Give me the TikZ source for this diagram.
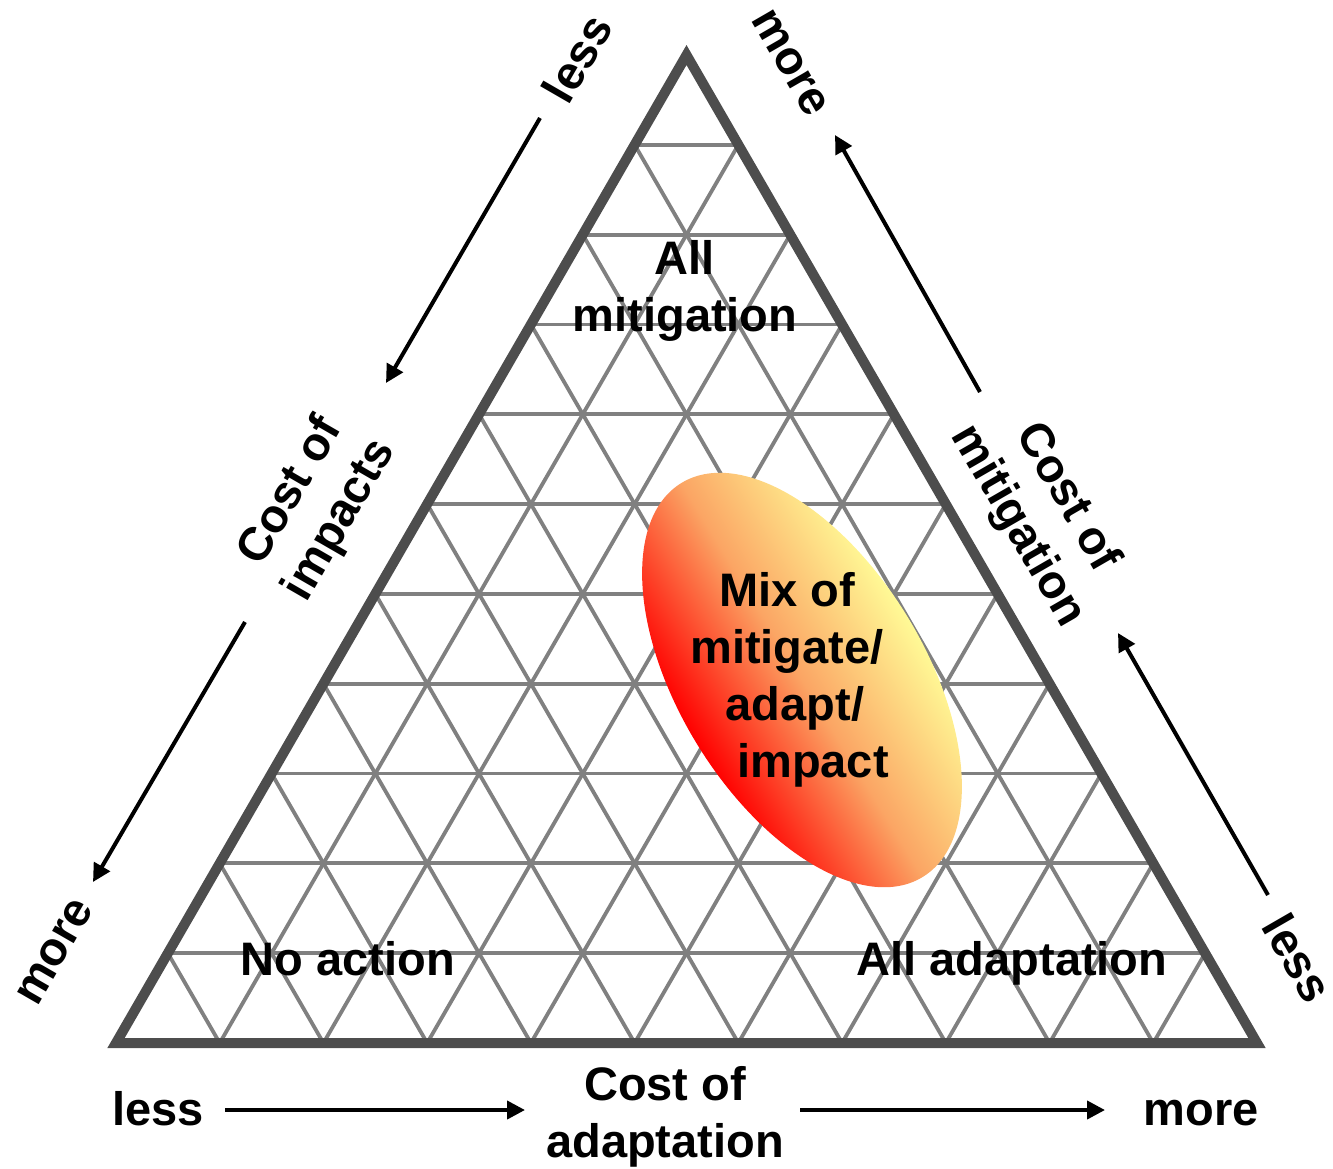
\documentclass[tikz,border=0pt]{standalone}
\usepackage{fontspec}
\setmainfont{Liberation Sans}
\usetikzlibrary{arrows.meta,calc,positioning}
\definecolor{rimgray}{RGB}{77,77,77}
\definecolor{meshgray}{RGB}{128,128,128}
\definecolor{mixyellow}{RGB}{255,250,150}
\definecolor{mixorange}{RGB}{251,165,100}
\definecolor{mixred}{RGB}{255,0,0}
\tikzset{
  lbl/.style={font=\fontsize{23.5}{28.5}\selectfont\bfseries, align=center, inner sep=0pt},
  mesh/.style={draw=meshgray, line width=1.9pt},
  rim/.style={draw=rimgray, line width=5pt, line join=miter},
  arr/.style={draw, line width=2pt, -{Triangle[length=9pt,width=9pt]}}
}

\begin{document}
\begin{tikzpicture}[x=0.5pt,y=-0.5pt]
        \useasboundingbox (0,0) rectangle (1333,1168);
        %corners
        \coordinate (A) at (116,1043);
        \coordinate (B) at (1257,1043);
        \coordinate (C) at (686.5,55);
        %mesh
        \foreach \k in {1,...,10}{
          \path[mesh] ($(A)!\k/11!(C)$) -- ($(B)!\k/11!(C)$);
          \path[mesh] ($(A)!\k/11!(B)$) -- ($(C)!\k/11!(B)$);
          \path[mesh] ($(B)!\k/11!(A)$) -- ($(C)!\k/11!(A)$);
        }
        %blob
        \shade[transform canvas={shift={(802,680)},rotate=-58.5}, top color=mixyellow, bottom color=mixred, middle color=mixorange] (0,0) ellipse [x radius=115.5pt, y radius=61.5pt];
        %outline
        \path[rim] (A) -- (B) -- (C) -- cycle;
        %nodes
        \node[lbl] (allmit) at (685,291) {All\\mitigation};
        \node[lbl, anchor=base] (noact) at (348,975) {No action};
        \node[lbl, anchor=base] (alladapt) at (1012,975) {All adaptation};
        \node[lbl] (mix) at (787,680) {Mix of\\mitigate/\\\hspace*{8pt}adapt/\\\hspace*{26pt}impact};
        \node[lbl, anchor=base] (lessA) at (158,1125) {less};
        \node[lbl, anchor=base] (moreA) at (1201,1125) {more};
        \node[lbl] (costA) at (665,1117) {Cost of\\adaptation};
        \node[lbl, rotate=60] (lessI) at (577,58) {less};
        \node[lbl, rotate=60] (costI) at (316,506) {Cost of\\impacts};
        \node[lbl, rotate=60] (moreI) at (55,952) {more};
        \node[lbl, rotate=-60] (moreM) at (790,63) {more};
        \node[lbl, rotate=-60] (costM) at (1042,512) {Cost of\\mitigation};
        \node[lbl, rotate=-60] (lessM) at (1298,958) {less};
        %arrow ends
        \coordinate (a1) at (225,1110);
        \coordinate (a2) at (525,1110);
        \coordinate (a3) at (800,1110);
        \coordinate (a4) at (1105,1110);
        \coordinate (i1) at (540,118);
        \coordinate (i2) at (386,383);
        \coordinate (i3) at (245,622);
        \coordinate (i4) at (93,882);
        \coordinate (m1) at (980,392);
        \coordinate (m2) at (835,135);
        \coordinate (m3) at (1268,895);
        \coordinate (m4) at (1118,633);
        %edges
        \path[arr] (a1) -- (a2);
        \path[arr] (a3) -- (a4);
        \path[arr] (i1) -- (i2);
        \path[arr] (i3) -- (i4);
        \path[arr] (m1) -- (m2);
        \path[arr] (m3) -- (m4);
\end{tikzpicture}
\end{document}
